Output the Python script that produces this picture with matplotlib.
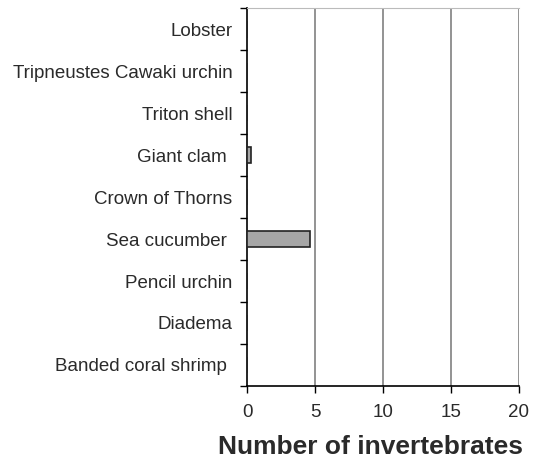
import matplotlib.pyplot as plt

plt.rcParams["font.family"] = ["Liberation Sans", "DejaVu Sans"]

# categories listed bottom to top (some labels carry a trailing space, as in the source)
CATEGORIES = [
    "Banded coral shrimp ",
    "Diadema",
    "Pencil urchin",
    "Sea cucumber ",
    "Crown of Thorns",
    "Giant clam ",
    "Triton shell",
    "Tripneustes Cawaki urchin",
    "Lobster",
]
COUNTS = [0, 0, 0, 4.65, 0, 0.3, 0, 0, 0]
X_TICKS = [0, 5, 10, 15, 20]

TEXT_COLOR = "#2a2a2a"


def main():
    fig = plt.figure(figsize=(5.41, 4.65), dpi=100)
    ax = fig.add_axes([0.4566, 0.170, 0.5026, 0.8125])

    ypos = list(range(len(CATEGORIES)))
    ax.barh(ypos, COUNTS, height=0.4, color="#a6a6a6", edgecolor="#222222",
            linewidth=1.2, zorder=3)

    ax.set_xlim(0, 20)
    ax.set_ylim(-0.5, len(CATEGORIES) - 0.5)
    ax.set_xticks(X_TICKS)
    ax.set_xticklabels([str(t) for t in X_TICKS], fontsize=13.5, color=TEXT_COLOR)

    # ticks on category boundaries, labels in the middle
    ax.set_yticks([i - 0.5 for i in range(len(CATEGORIES) + 1)])
    ax.set_yticklabels([])
    ax.set_yticks(ypos, minor=True)
    ax.set_yticklabels(CATEGORIES, minor=True, fontsize=13.5, color=TEXT_COLOR)
    ax.tick_params(axis="y", which="minor", length=0, pad=10.5)
    ax.tick_params(axis="y", which="major", length=5, width=1, direction="out")
    ax.tick_params(axis="x", length=5, width=1, direction="out", pad=8)

    for x in X_TICKS[1:]:
        ax.axvline(x, color="#808080", linewidth=1.2, zorder=1)

    ax.spines["top"].set_color("#bbbbbb")
    ax.spines["right"].set_visible(False)
    ax.spines["left"].set_linewidth(1.2)
    ax.spines["bottom"].set_linewidth(1.2)

    ax.set_xlabel("Number of invertebrates", fontsize=19, fontweight="bold",
                  labelpad=10, x=0.455, color=TEXT_COLOR)

    fig.savefig("out.png", dpi=100)
    plt.close(fig)


if __name__ == "__main__":
    main()
